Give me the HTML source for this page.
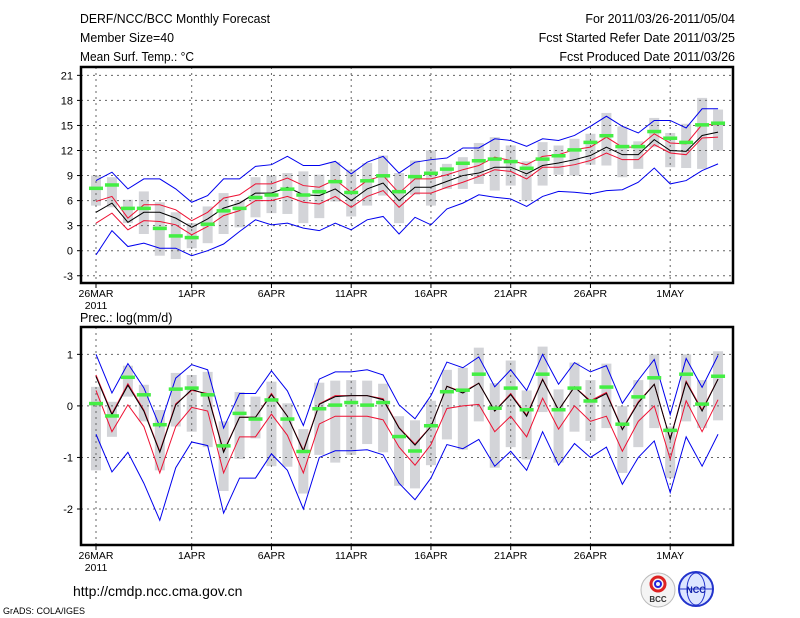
<!DOCTYPE html>
<html><head><meta charset="utf-8"><style>
body{margin:0;background:#fff;}
svg{display:block;font-family:"Liberation Sans",sans-serif;}
</style></head><body>
<svg id="chart" width="800" height="618" viewBox="0 0 800 618" xmlns="http://www.w3.org/2000/svg">
<g font-size="12.5" fill="#000">
<text x="80" y="23" textLength="190" lengthAdjust="spacingAndGlyphs">DERF/NCC/BCC Monthly Forecast</text>
<text x="80" y="42" textLength="94" lengthAdjust="spacingAndGlyphs">Member Size=40</text>
<text x="80" y="61" textLength="114" lengthAdjust="spacingAndGlyphs">Mean Surf. Temp.: °C</text>
<text x="735" y="23" text-anchor="end">For 2011/03/26-2011/05/04</text>
<text x="735" y="42" text-anchor="end">Fcst Started Refer Date 2011/03/25</text>
<text x="735" y="61" text-anchor="end">Fcst Produced Date 2011/03/26</text>
<text x="80" y="322">Prec.: log(mm/d)</text>
<text x="73" y="596" font-size="14">http://cmdp.ncc.cma.gov.cn</text>
<text x="3" y="614" font-size="9">GrADS: COLA/IGES</text>
</g>
<g>
<circle cx="658" cy="590" r="17" fill="#f4f4f4" stroke="#bbb"/>
<circle cx="658" cy="584" r="7" fill="none" stroke="#d22" stroke-width="3"/>
<circle cx="658" cy="584" r="3" fill="none" stroke="#22d" stroke-width="2"/>
<text x="658" y="602" font-size="8" text-anchor="middle" font-weight="bold" fill="#333">BCC</text>
</g>
<g>
<circle cx="696" cy="589" r="17" fill="#dde6ff" stroke="#2233cc" stroke-width="2"/>
<ellipse cx="696" cy="589" rx="9" ry="16" fill="none" stroke="#2233cc"/>
<line x1="680" y1="589" x2="712" y2="589" stroke="#2233cc"/>
<text x="696" y="593" font-size="9" text-anchor="middle" font-weight="bold" fill="#1122aa">NCC</text>
</g>
<g id="top"></g>
<g id="bot"></g>
</svg>
<script>
// ---- Top panel data (Mean Surf. Temp, 26MAR..04MAY) ----
const dates = ["26MAR","1APR","6APR","11APR","16APR","21APR","26APR","1MAY"];
const tTicks = [-3,0,3,6,9,12,15,18,21];
const tObs = [7.5,7.9,5.1,5.1,2.7,1.8,1.6,3.2,4.8,5.1,6.4,6.7,7.4,6.7,7.1,8.3,7.0,8.4,9.0,7.1,8.9,9.3,9.8,10.5,10.8,11.0,10.7,9.9,11.0,11.4,12.1,13.0,13.8,12.5,12.5,14.3,13.5,13.0,15.1,15.3];
const tMean = [4.6,5.7,3.4,4.6,4.6,3.9,2.8,3.8,5.1,5.7,6.9,6.9,7.6,6.7,6.6,7.4,6.0,7.4,8.1,6.0,7.6,7.6,8.3,9.0,9.3,10.0,10.0,9.2,10.2,10.5,10.9,11.4,12.4,11.5,11.5,13.3,12.0,11.9,13.8,14.2];
const tRedHi = [5.9,6.5,3.9,5.5,5.5,4.9,3.6,4.6,6.3,6.7,8.0,8.0,8.7,7.8,7.6,8.5,7.0,8.4,9.0,6.9,8.6,8.6,9.1,9.7,10.2,11.2,10.8,10.3,11.3,11.5,12.1,12.4,13.6,12.4,12.4,14.0,12.9,12.8,15.1,15.1];
const tRedLo = [3.3,4.5,2.5,3.6,3.5,3.1,1.9,2.9,4.2,4.8,6.0,6.0,6.5,5.8,5.6,6.5,5.2,6.5,7.2,5.2,6.9,6.9,7.6,8.2,8.9,9.7,9.5,8.6,10.0,10.0,10.3,10.8,11.7,10.9,10.9,12.7,11.7,11.5,13.5,13.6];
const tBlueHi = [8.4,9.4,7.4,8.6,8.6,7.4,5.8,6.6,8.6,8.6,10.1,10.3,11.3,10.2,10.2,10.7,9.2,10.6,11.3,9.3,10.6,10.9,11.1,12.3,12.3,13.4,13.2,12.5,13.4,13.2,13.8,14.9,16.1,14.9,14.1,15.6,15.6,14.7,17.0,17.0];
const tBlueLo = [-0.5,2.4,0.5,0.9,0.3,0.3,-0.6,0.0,0.8,2.3,3.7,3.1,3.3,2.7,2.4,3.3,2.5,3.7,4.1,2.0,4.0,3.1,5.0,5.7,6.7,6.4,6.2,5.3,6.5,7.1,7.0,6.8,7.2,7.3,8.2,9.9,8.0,8.4,9.6,10.4];
const tBarHi = [9.0,8.8,6.1,7.1,5.8,4.6,3.3,5.3,6.9,6.0,8.8,9.0,9.3,9.5,9.1,10.6,9.7,10.5,11.4,9.3,10.8,12.0,10.4,11.2,12.9,13.6,12.6,10.7,13.0,12.6,13.4,14.0,16.5,14.9,13.1,15.9,14.1,15.2,18.3,16.9];
const tBarLo = [5.4,5.2,3.3,2.0,-0.6,-1.0,0.3,0.9,2.0,2.8,4.0,4.5,4.4,3.3,3.9,5.9,4.1,5.4,6.6,3.3,6.7,5.4,7.4,7.4,8.0,7.2,7.8,6.0,7.8,9.1,9.0,10.3,10.2,8.8,9.8,12.4,10.0,9.9,9.8,12.0];
// ---- Bottom panel data (Prec log(mm/d)) ----
const pTicks = [-2,-1,0,1];
const pObs = [0.05,-0.19,0.56,0.22,-0.36,0.33,0.35,0.22,-0.77,-0.14,-0.25,0.12,-0.25,-0.88,-0.05,0.02,0.07,0.02,0.07,-0.59,-0.87,-0.38,0.28,0.31,0.62,-0.04,0.35,-0.07,0.62,-0.07,0.35,0.1,0.37,-0.35,0.18,0.55,-0.47,0.62,0.04,0.58];
const pMean = [0.57,-0.17,0.4,-0.1,-0.9,0.02,0.32,0.22,-0.9,-0.22,-0.22,0.22,-0.2,-0.88,0.03,0.18,0.2,0.2,0.12,-0.43,-0.76,-0.4,0.38,0.25,0.44,-0.1,0.22,-0.2,0.51,-0.08,0.37,0.08,0.24,-0.46,0.06,0.42,-0.65,0.46,-0.1,0.52];
const pRedHi = [0.6,-0.15,0.43,-0.08,-0.88,0.04,0.3,0.24,-0.88,-0.22,-0.22,0.24,-0.2,-0.86,0.04,0.2,0.2,0.2,0.14,-0.42,-0.74,-0.4,0.38,0.27,0.44,-0.1,0.24,-0.18,0.52,-0.08,0.37,0.1,0.26,-0.45,0.08,0.42,-0.64,0.48,-0.08,0.52];
const pRedLo = [0.3,-0.5,0.02,-0.4,-1.3,-0.4,-0.03,-0.1,-1.3,-0.6,-0.6,-0.16,-0.57,-1.3,-0.35,-0.2,-0.2,-0.2,-0.27,-0.8,-1.15,-0.75,-0.05,0.0,0.03,-0.5,-0.2,-0.6,0.15,-0.45,0.0,-0.3,-0.2,-0.88,-0.3,0.0,-1.03,0.1,-0.5,0.12];
const pBlueHi = [1.0,0.25,0.82,0.35,-0.4,0.54,0.8,0.7,-0.43,0.24,0.24,0.68,0.29,-0.38,0.52,0.66,0.66,0.7,0.6,0.02,-0.25,0.2,0.85,0.74,0.95,0.37,0.7,0.3,1.0,0.42,0.84,0.66,0.78,0.05,0.5,0.9,-0.17,0.92,0.36,0.98];
const pBlueLo = [-0.55,-1.28,-0.9,-1.5,-2.22,-1.2,-0.7,-0.77,-2.08,-1.4,-1.4,-0.93,-1.25,-2.0,-1.0,-0.87,-0.87,-0.85,-0.95,-1.5,-1.82,-1.4,-0.75,-0.83,-0.65,-1.17,-0.88,-1.25,-0.5,-1.15,-0.73,-1.0,-0.8,-1.52,-1.0,-0.68,-1.68,-0.6,-1.17,-0.55];
const pBarHi = [0.37,0.08,0.78,0.41,-0.08,0.64,0.6,0.66,-0.3,0.27,0.18,0.47,0.05,-0.45,0.45,0.49,0.5,0.49,0.43,-0.2,-0.28,0.1,0.7,0.74,1.13,0.44,0.88,0.3,1.15,0.32,0.84,0.5,0.82,0.0,0.5,1.0,-0.4,1.0,0.5,1.06];
const pBarLo = [-1.25,-0.6,0.18,-0.3,-1.25,-0.4,-0.5,-0.8,-1.65,-1.03,-0.63,-1.17,-1.18,-1.7,-0.95,-1.1,-0.95,-0.74,-0.9,-1.55,-1.6,-1.15,-0.65,-0.85,-0.3,-1.2,-0.8,-1.04,-0.12,-1.1,-0.5,-0.68,-0.43,-1.3,-0.8,-0.43,-1.4,-0.3,-0.43,-0.28];

const NS = "http://www.w3.org/2000/svg";
const X0 = 96, DX = 15.95;
function xs(d){ return X0 + d*DX; }
function mk(parent, tag, attrs){
  const e = document.createElementNS(NS, tag);
  for (const k in attrs) e.setAttribute(k, attrs[k]);
  parent.appendChild(e); return e;
}
function panel(g, name, box, ys, ticks, tickFmt, d){
  for (let i=0;i<d.barHi.length;i++){
    const r = mk(g,'rect',{x:xs(i)-5,y:ys(d.barHi[i]),width:10,height:ys(d.barLo[i])-ys(d.barHi[i]),fill:'#d3d4d8'});
    
    
  }
  ticks.forEach(v=>{
    const l = mk(g,'line',{x1:box.x1,x2:box.x2,y1:ys(v),y2:ys(v),stroke:'#666','stroke-dasharray':'2,4'});
    
    
    const t = mk(g,'text',{x:box.x1-8,y:ys(v)+4,'text-anchor':'end','font-size':'11'});
    t.textContent = tickFmt(v);
    
    
    mk(g,'line',{x1:box.x1-4,x2:box.x1,y1:ys(v),y2:ys(v),stroke:'#000'});
  });
  dates.forEach((s,k)=>{
    const dd = k===0 ? 0 : 6 + (k-1)*5; // 0,6,11,16,21,26,31,36
    const xx = xs(dd);
    const l = mk(g,'line',{x1:xx,x2:xx,y1:box.y1,y2:box.y2,stroke:'#666','stroke-dasharray':'2,4'});
    
    
    mk(g,'line',{x1:xx,x2:xx,y1:box.y2,y2:box.y2+5,stroke:'#000'});
    const t = mk(g,'text',{x:xx,y:box.y2+14,'text-anchor':'middle','font-size':'10.5'});
    t.textContent = s;
    
    
  });
  const t2 = mk(g,'text',{x:xs(0),y:box.y2+26,'text-anchor':'middle','font-size':'10.5'});
  t2.textContent = '2011';
  
  
  function line(arr,color,nm,w){
    const p = mk(g,'polyline',{points:arr.map((v,i)=>xs(i)+','+ys(v)).join(' '),fill:'none',stroke:color,'stroke-width':w||1});
    
    
  }
  line(d.blueHi,'#0000ee',name+'-max-line');
  line(d.blueLo,'#0000ee',name+'-min-line');
  line(d.redLo,'#ee1133',name+'-lower-quartile-line');
  line(d.redHi,'#ee1133',name+'-upper-quartile-line');
  line(d.mean,'#000',name+'-mean-line');
  for (let i=0;i<d.obs.length;i++){
    const r = mk(g,'rect',{x:xs(i)-7,y:ys(d.obs[i])-1.5,width:14,height:3.5,fill:'#44ee44'});
    
    
  }
  const f = mk(g,'rect',{x:box.x1,y:box.y1,width:box.x2-box.x1,height:box.y2-box.y1,fill:'none',stroke:'#000','stroke-width':2.5});
  
  
}
const topBox = {x1:81,x2:733,y1:67,y2:283};
panel(document.getElementById('top'),'temp',topBox,v=>250.7-v*8.35,tTicks,v=>String(v),
  {barHi:tBarHi,barLo:tBarLo,obs:tObs,mean:tMean,redHi:tRedHi,redLo:tRedLo,blueHi:tBlueHi,blueLo:tBlueLo});
const botBox = {x1:81,x2:733,y1:327,y2:545};
panel(document.getElementById('bot'),'prec',botBox,v=>405.9-v*51.55,pTicks,v=>String(v),
  {barHi:pBarHi,barLo:pBarLo,obs:pObs,mean:pMean,redHi:pRedHi,redLo:pRedLo,blueHi:pBlueHi,blueLo:pBlueLo});
</script>
</body></html>
